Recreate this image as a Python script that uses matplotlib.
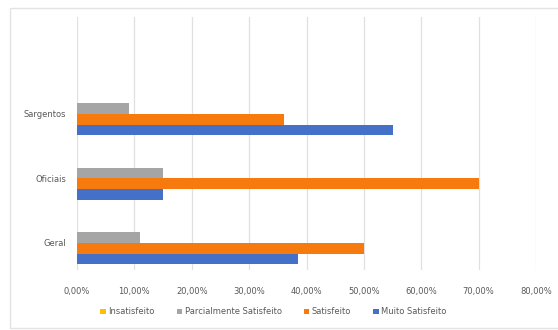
import numpy as np
import matplotlib.pyplot as plt
from matplotlib.patches import Rectangle

categorias = ["Geral", "Oficiais", "Sargentos"]
series = ["Insatisfeito", "Parcialmente Satisfeito", "Satisfeito", "Muito Satisfeito"]
insatisfeito = [0.0, 0.0, 0.0]
parcialmente = [11.0, 15.0, 9.0]
satisfeito = [50.0, 70.0, 36.0]
muito_satisfeito = [38.5, 15.0, 55.0]
xticks = [0, 10, 20, 30, 40, 50, 60, 70, 80]
xlabels = ["0,00%", "10,00%", "20,00%", "30,00%", "40,00%", "50,00%", "60,00%", "70,00%", "80,00%"]

cores = ["#FFC000", "#A5A5A5", "#F77A0E", "#4470C8"]
valores = [insatisfeito, parcialmente, satisfeito, muito_satisfeito]

fig = plt.figure(figsize=(5.58, 3.30), dpi=100)
fig.patch.set_facecolor("white")
# moldura do grafico
fig.patches.append(Rectangle((0.018, 0.006), 1.0, 0.97, transform=fig.transFigure,
                             fill=False, edgecolor="#E3E3E3", linewidth=1.0))

ax = fig.add_axes([0.138, 0.182, 0.8226, 0.766])

y = np.arange(len(categorias))
h = 0.166
for i, (nome, v, c) in enumerate(zip(series, valores, cores)):
    # primeira serie fica no topo do grupo
    offset = (1.5 - i) * h
    ax.barh(y + offset, v, height=h, color=c, label=nome, zorder=3)

ax.set_xlim(0, 80)
ax.set_ylim(-0.42, 3.5)
ax.set_xticks(xticks)
ax.set_xticklabels(xlabels)
ax.set_yticks(y)
ax.set_yticklabels(categorias)
ax.tick_params(axis="both", length=0, labelsize=6, labelcolor="#595959")
ax.tick_params(axis="x", pad=12)
ax.tick_params(axis="y", pad=8)
ax.grid(axis="x", color="#E0E0E0", linewidth=0.9, zorder=0)
for s in ax.spines.values():
    s.set_visible(False)

fig.legend(loc="center", bbox_to_anchor=(0.49, 0.055), ncol=4, frameon=False,
           fontsize=6, labelcolor="#595959", handlelength=0.7, handleheight=0.7,
           handletextpad=0.3, columnspacing=2.6)

fig.savefig("out.png", dpi=100)
